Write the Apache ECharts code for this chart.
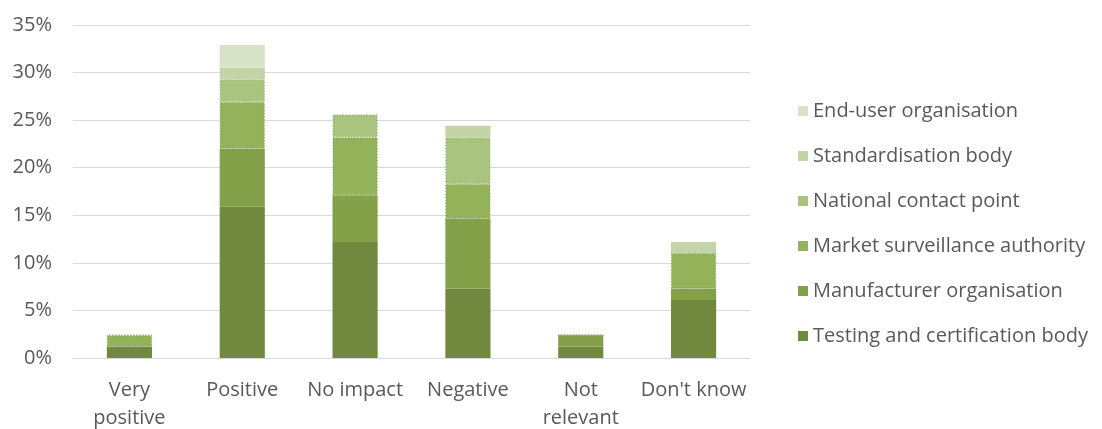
<!DOCTYPE html>
<html>
<head>
<meta charset="utf-8">
<script src="https://cdn.jsdelivr.net/npm/echarts@6/dist/echarts.min.js"></script>
<style>
  html, body { margin: 0; padding: 0; background: #ffffff; overflow: hidden; }
  #chart { width: 1102px; height: 429px; }
</style>
</head>
<body>
<div id="chart"></div>
<script>
// Response categories along the x axis
const categories = ['Very\npositive', 'Positive', 'No impact', 'Negative', 'Not\nrelevant', "Don't know"];

// Share of respondents (%) per stakeholder type, stacked bottom to top
const testingBody     = [1.2, 15.9, 12.2, 7.3, 1.2, 6.1];
const manufacturer    = [0,   6.1,  4.9,  7.3, 1.2, 1.2];
const marketAuthority = [1.2, 4.9,  6.1,  3.7, 0,   3.7];
const contactPoint    = [0,   2.4,  2.4,  4.9, 0,   0];
const standardBody    = [0,   1.2,  0,    1.2, 0,   1.2];
const endUser         = [0,   2.4,  0,    0,   0,   0];

const yTicks = [0, 5, 10, 15, 20, 25, 30, 35];

// Market surveillance and national contact point segments carry a thin dotted outline
const stackSeries = [
  { name: 'Testing and certification body', data: testingBody,     color: '#71893e' },
  { name: 'Manufacturer organisation',      data: manufacturer,    color: '#84a14a' },
  { name: 'Market surveillance authority',  data: marketAuthority, color: '#93b25a', outline: '#7f9c48' },
  { name: 'National contact point',         data: contactPoint,    color: '#a9c47f', outline: '#8eab5c' },
  { name: 'Standardisation body',           data: standardBody,    color: '#c3d5a6' },
  { name: 'End-user organisation',          data: endUser,         color: '#d7e3c6' }
];

const font = '"Open Sans", Lato, sans-serif';
const chart = echarts.init(document.getElementById('chart'), null, { renderer: 'canvas' });

chart.setOption({
  animation: false,
  backgroundColor: '#ffffff',
  grid: { left: 73, right: 352, top: 25, bottom: 71, containLabel: false, outerBoundsMode: 'none' },
  legend: {
    orient: 'vertical',
    left: 793,
    top: 95,
    itemWidth: 10,
    itemHeight: 10,
    itemGap: 23,
    icon: 'rect',
    data: stackSeries.map(s => s.name).reverse(),
    itemStyle: { borderWidth: 0 },
    textStyle: { fontFamily: font, fontSize: 20, color: '#595959', lineHeight: 22, padding: [0, 0, 0, 0] }
  },
  xAxis: {
    type: 'category',
    data: categories,
    axisLine: { show: true, lineStyle: { color: '#d9d9d9', width: 1 } },
    axisTick: { show: false },
    axisLabel: { fontFamily: font, fontSize: 20, color: '#595959', lineHeight: 28, margin: 18, interval: 0 }
  },
  yAxis: {
    type: 'value',
    min: yTicks[0],
    max: yTicks[yTicks.length - 1],
    interval: 5,
    axisLine: { show: false },
    axisTick: { show: false },
    splitLine: { lineStyle: { color: '#d9d9d9', width: 1 } },
    axisLabel: { fontFamily: font, fontSize: 20, color: '#595959', margin: 21, formatter: '{value}%' }
  },
  series: stackSeries.map(s => ({
    name: s.name,
    type: 'bar',
    stack: 'total',
    barWidth: '40%',
    data: s.data,
    itemStyle: s.outline
      ? { color: s.color, borderColor: s.outline, borderWidth: 1, borderType: [1, 2] }
      : { color: s.color },
    emphasis: { disabled: true }
  }))
});
</script>
</body>
</html>
